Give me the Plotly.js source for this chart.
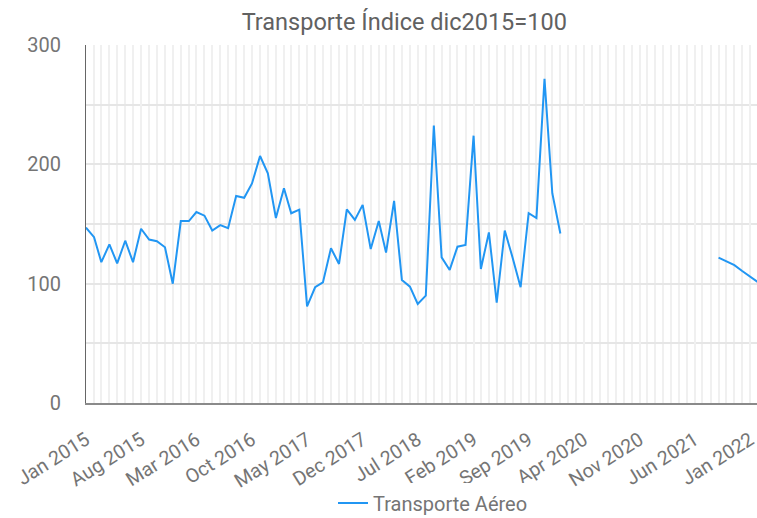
<!DOCTYPE html>
<html>
<head>
<meta charset="utf-8">
<script src="https://cdn.plot.ly/plotly-3.0.1.min.js"></script>
<style>html,body{margin:0;padding:0;background:#fff;}#chart{width:757px;height:518px;}</style>
</head>
<body>
<div id="chart"></div>
<script>
const months = [
  "2015-01-01","2015-02-01","2015-03-01","2015-04-01","2015-05-01","2015-06-01","2015-07-01","2015-08-01","2015-09-01","2015-10-01","2015-11-01","2015-12-01",
  "2016-01-01","2016-02-01","2016-03-01","2016-04-01","2016-05-01","2016-06-01","2016-07-01","2016-08-01","2016-09-01","2016-10-01","2016-11-01","2016-12-01",
  "2017-01-01","2017-02-01","2017-03-01","2017-04-01","2017-05-01","2017-06-01","2017-07-01","2017-08-01","2017-09-01","2017-10-01","2017-11-01","2017-12-01",
  "2018-01-01","2018-02-01","2018-03-01","2018-04-01","2018-05-01","2018-06-01","2018-07-01","2018-08-01","2018-09-01","2018-10-01","2018-11-01","2018-12-01",
  "2019-01-01","2019-02-01","2019-03-01","2019-04-01","2019-05-01","2019-06-01","2019-07-01","2019-08-01","2019-09-01","2019-10-01","2019-11-01","2019-12-01",
  "2020-01-01","2020-02-01","2020-03-01","2020-04-01","2020-05-01","2020-06-01","2020-07-01","2020-08-01","2020-09-01","2020-10-01","2020-11-01","2020-12-01",
  "2021-01-01","2021-02-01","2021-03-01","2021-04-01","2021-05-01","2021-06-01","2021-07-01","2021-08-01","2021-09-01","2021-10-01","2021-11-01","2021-12-01",
  "2022-01-01","2022-02-01"
];
const transporteAereo = [
  147, 139, 118, 133, 117, 136, 118, 146, 137, 135.5, 130.5, 100,
  152.5, 152.5, 160, 157, 144.5, 149, 146.5, 173.5, 172, 184, 207, 192.5,
  155, 180, 159, 162, 81, 97, 101, 129.7, 116.5, 162.3, 153.4, 166,
  129, 152.5, 126, 169.3, 103, 97.5, 83, 90, 232.5, 122, 111.5, 131,
  132.5, 224, 112.3, 143, 84, 144.5, 122, 97, 159, 155, 271.6, 175.8,
  142, null, null, null, null, null, null, null, null, null, null, null,
  null, null, null, null, null, null, null, null, 121.8, 118.5, 115.5, 110.6,
  106, 101
];
const tickDates = ["2015-01-01","2015-08-01","2016-03-01","2016-10-01","2017-05-01","2017-12-01","2018-07-01","2019-02-01","2019-09-01","2020-04-01","2020-11-01","2021-06-01","2022-01-01"];
const tickLabels = ["Jan 2015","Aug 2015","Mar 2016","Oct 2016","May 2017","Dec 2017","Jul 2018","Feb 2019","Sep 2019","Apr 2020","Nov 2020","Jun 2021","Jan 2022"];
const yTicks = [0, 100, 200, 300];

const FONT = "Roboto, 'Noto Sans', sans-serif";
const trace = {
  x: months, y: transporteAereo, type: "scatter", mode: "lines",
  name: "Transporte Aéreo", connectgaps: false,
  line: {color: "#2196f3", width: 2}
};
const layout = {
  width: 757, height: 518,
  margin: {l: 86, r: 0, t: 45, b: 115},
  paper_bgcolor: "#fff", plot_bgcolor: "#fff",
  font: {family: FONT, color: "#757575"},
  title: {text: "Transporte Índice dic2015=100", font: {size: 23.5, color: "#616161", family: FONT},
          xref: "container", x: 0.534, xanchor: "center", yref: "container", y: 0.958, yanchor: "middle"},
  xaxis: {
    type: "date", range: ["2015-01-01", "2022-01-27"],
    tickvals: tickDates, ticktext: tickLabels, tickangle: -32,
    tickfont: {size: 19.5, color: "#757575"},
    ticks: "", ticklabelstandoff: 16, ticklabeloverflow: "allow",
    showgrid: true, gridcolor: "#f0f0f0", gridwidth: 2,
    minor: {dtick: "M1", tick0: "2015-01-01", showgrid: true, gridcolor: "#f0f0f0", gridwidth: 2},
    showline: true, linecolor: "#8a8a8a", linewidth: 2, zeroline: false, fixedrange: true
  },
  yaxis: {
    range: [0, 300], tickvals: yTicks,
    tickfont: {size: 20, color: "#757575"},
    ticks: "", ticklabelstandoff: 20,
    showgrid: true, gridcolor: "#e6e6e6", gridwidth: 2,
    minor: {dtick: 50, showgrid: true, gridcolor: "#e6e6e6", gridwidth: 2},
    showline: true, linecolor: "#666", linewidth: 1, zeroline: false, fixedrange: true
  },
  showlegend: true,
  legend: {orientation: "h", xref: "container", x: 0.572, xanchor: "center",
           yref: "container", y: 0.029, yanchor: "middle",
           font: {size: 20, color: "#757575"}},
};
Plotly.newPlot("chart", [trace], layout, {displayModeBar: false, staticPlot: true});
</script>
</body>
</html>
